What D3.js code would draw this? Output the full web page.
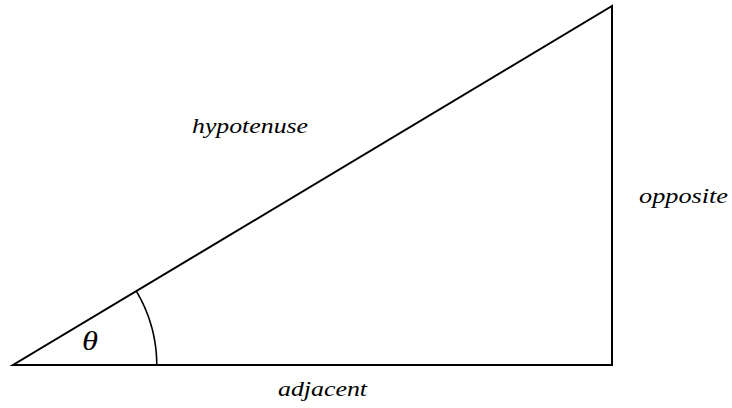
<!DOCTYPE html>
<html><head><meta charset="utf-8">
<script src="https://cdn.jsdelivr.net/npm/d3@7"></script>
<style>html,body{margin:0;padding:0;background:#fff;}
text{font-family:"Liberation Serif","DejaVu Serif","Times New Roman",Times,serif;font-style:italic;}</style>
</head><body>
<svg id="chart" width="732" height="408"></svg>
<script>
// Triangle vertices (data units)
const vertexX = [0, 5, 5];
const vertexY = [0, 0, 3];
const sideLabels = ["hypotenuse", "opposite", "adjacent"];
const angleLabel = ["θ"];
const arcRadius = [1.2];

const svg = d3.select("#chart");
const x = d3.scaleLinear().domain([0, 5]).range([13, 612]);
const y = d3.scaleLinear().domain([0, 3]).range([365, 6]);

const pts = vertexX.map((v, i) => [x(v), y(vertexY[i])]);
svg.append("path")
  .attr("d", d3.line()(pts) + "Z")
  .attr("fill", "none").attr("stroke", "#000").attr("stroke-width", 2)
  .attr("stroke-linejoin", "miter");

// angle arc
const theta = Math.atan2(vertexY[2] - vertexY[0], vertexX[2] - vertexX[0]);
const arcPts = d3.range(0, 51).map(i => {
  const a = theta * i / 50;
  return [x(vertexX[0] + arcRadius[0] * Math.cos(a)), y(vertexY[0] + arcRadius[0] * Math.sin(a))];
});
svg.append("path").attr("d", d3.line()(arcPts))
  .attr("fill", "none").attr("stroke", "#000").attr("stroke-width", 1.6);

function label(t, px, py, w, size) {
  svg.append("text").text(t).attr("x", px).attr("y", py)
    .attr("font-size", size).attr("fill", "#000")
    .attr("textLength", w).attr("lengthAdjust", "spacingAndGlyphs");
}
label(sideLabels[0], 192, 133, 116, 22);
label(sideLabels[1], 639, 203, 89, 22);
label(sideLabels[2], 278, 396, 89, 22);
label(angleLabel[0], 82, 350, 16, 27);
</script>
</body></html>
